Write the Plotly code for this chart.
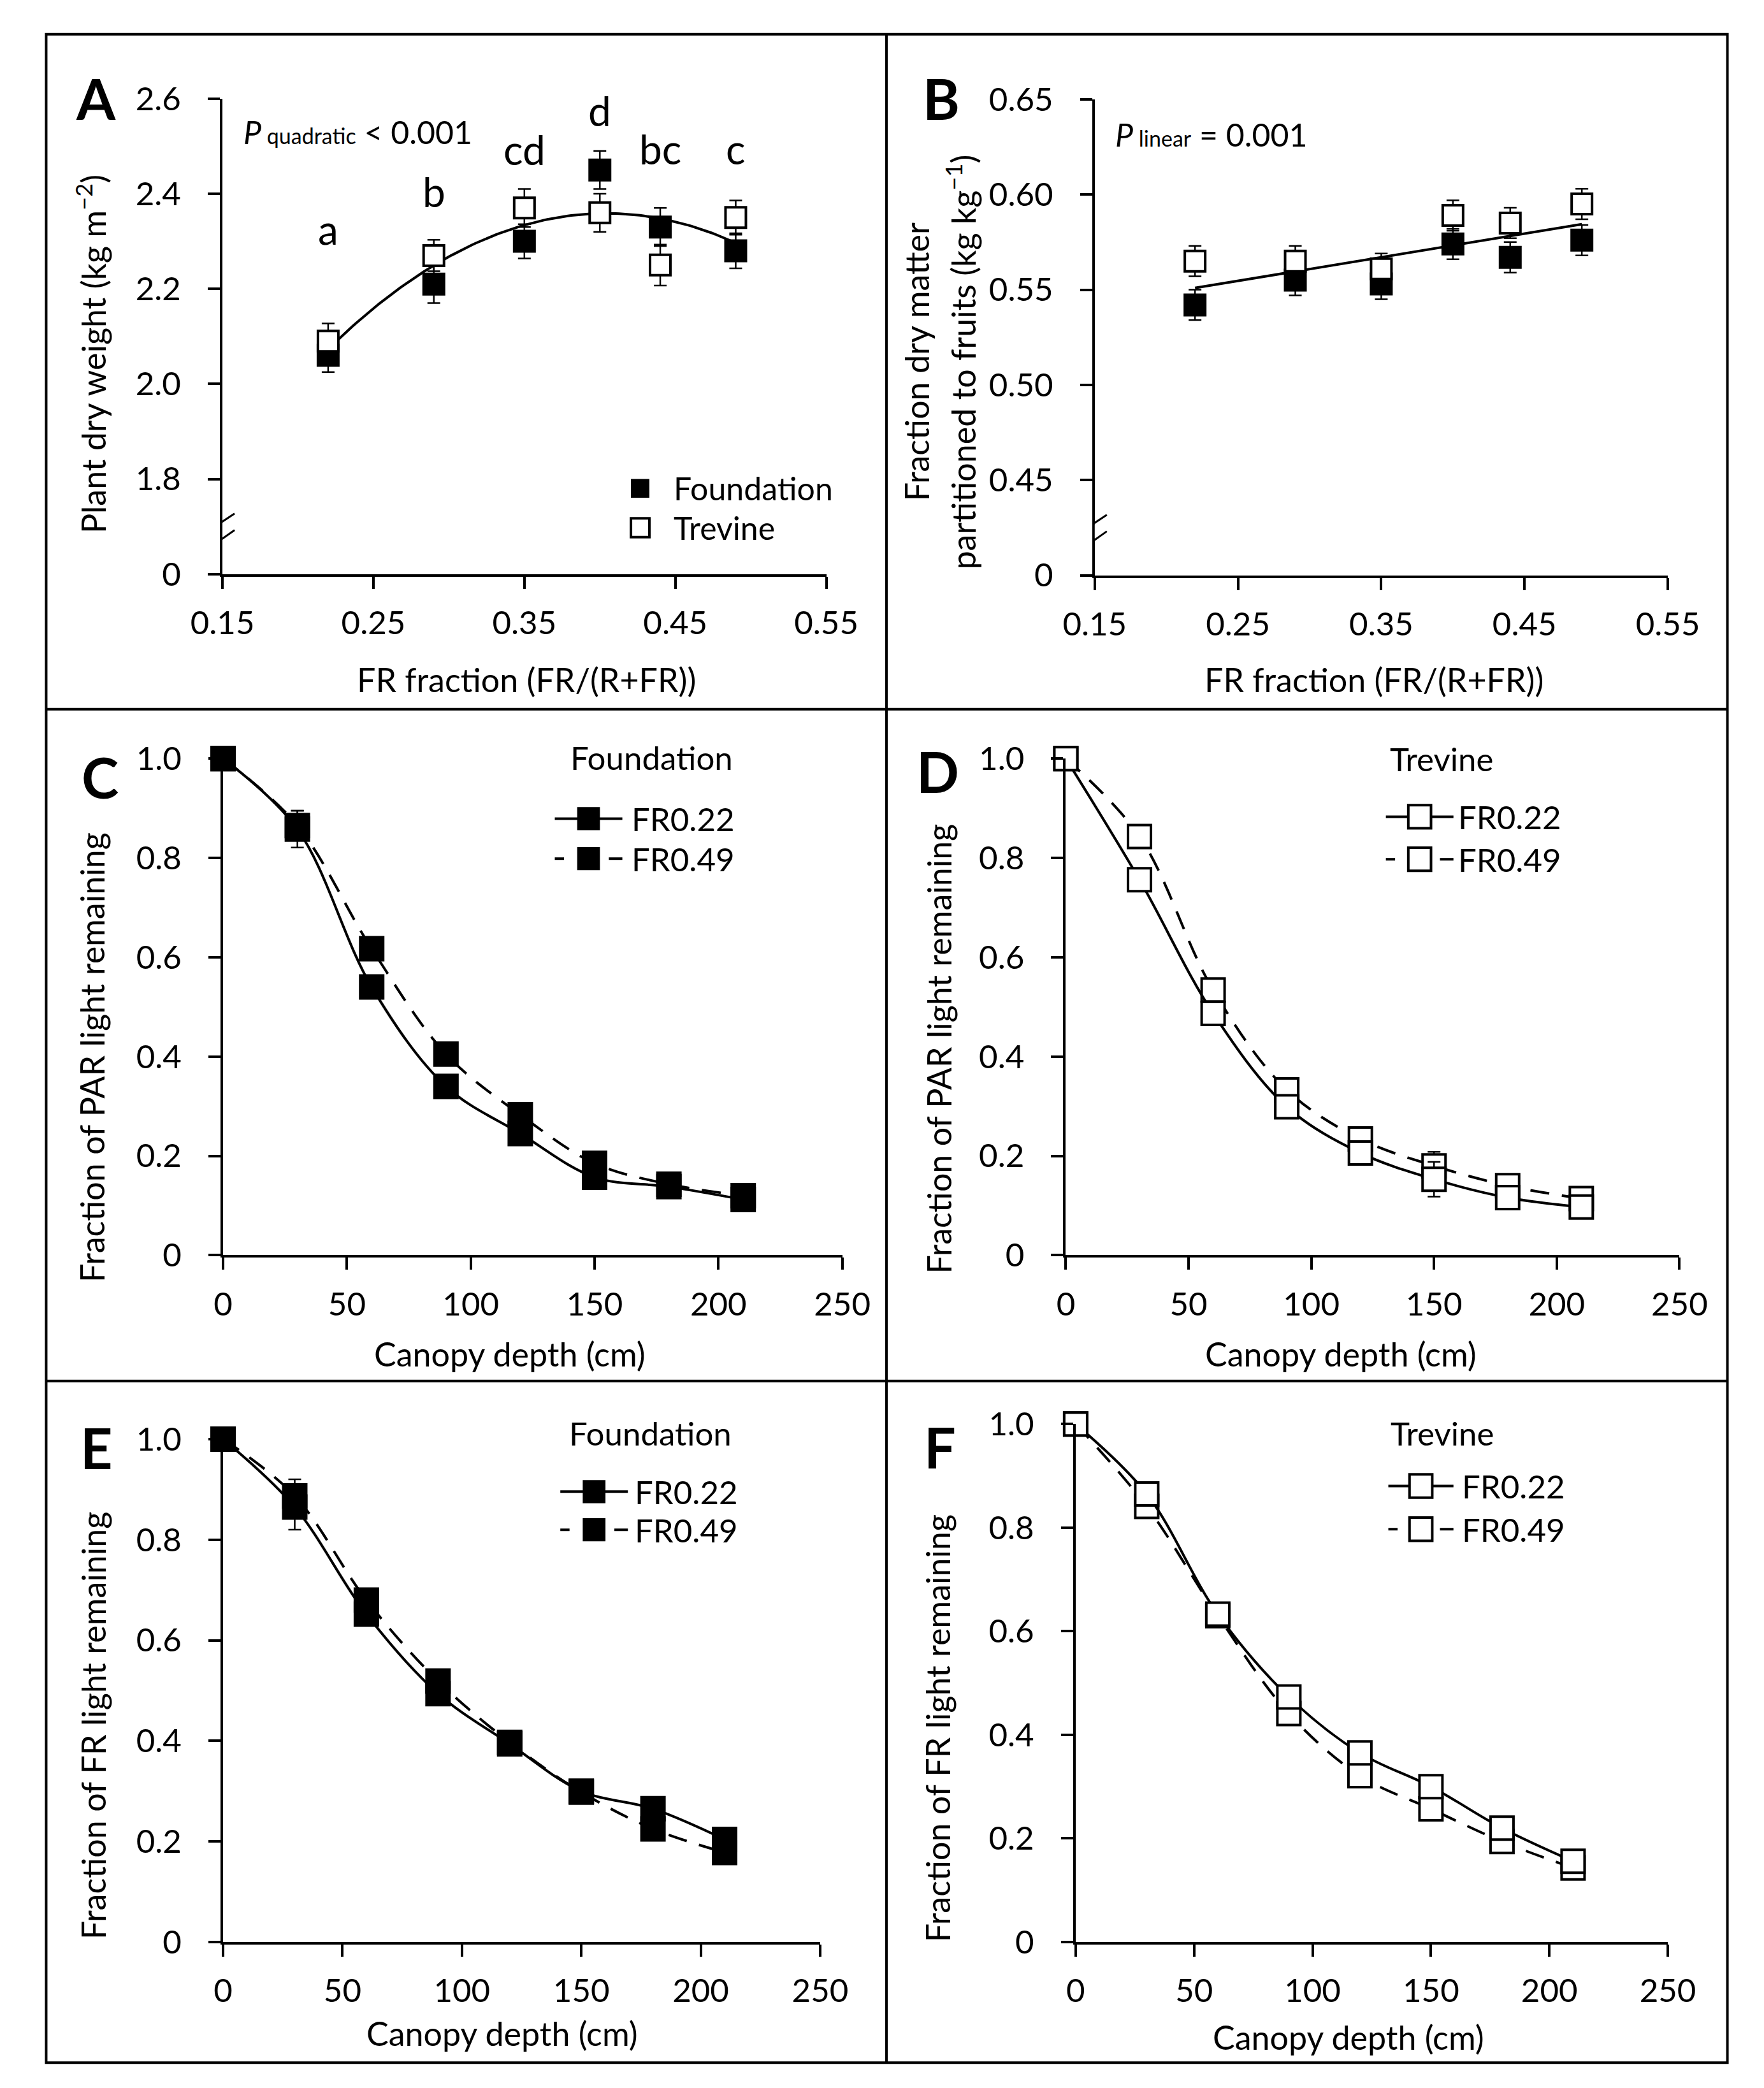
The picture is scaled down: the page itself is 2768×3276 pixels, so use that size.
import numpy as np
import plotly.graph_objects as go

# ---- data ----
fr = [0.22, 0.29, 0.35, 0.40, 0.44, 0.49]
sig_letters = ["a", "b", "cd", "d", "bc", "c"]

dw_foundation = [2.06, 2.21, 2.30, 2.45, 2.33, 2.28]
dw_trevine = [2.09, 2.27, 2.37, 2.36, 2.25, 2.35]
dw_foundation_err = [0.035, 0.040, 0.036, 0.040, 0.040, 0.037]
dw_trevine_err = [0.037, 0.033, 0.040, 0.040, 0.043, 0.036]

part_foundation = [0.542, 0.555, 0.553, 0.574, 0.567, 0.576]
part_trevine = [0.565, 0.565, 0.561, 0.589, 0.585, 0.595]
part_foundation_err = [0.008, 0.008, 0.008, 0.008, 0.008, 0.008]
part_trevine_err = [0.008, 0.008, 0.008, 0.008, 0.008, 0.008]

depth = [0, 30, 60, 90, 120, 150, 180, 210]
par_found_022 = [1.0, 0.858, 0.540, 0.340, 0.245, 0.157, 0.138, 0.112]
par_found_049 = [1.0, 0.865, 0.617, 0.405, 0.283, 0.185, 0.143, 0.120]
par_trev_022 = [1.0, 0.756, 0.487, 0.299, 0.206, 0.153, 0.116, 0.097]
par_trev_049 = [1.0, 0.843, 0.534, 0.333, 0.234, 0.180, 0.140, 0.114]
frl_found_022 = [1.0, 0.865, 0.652, 0.494, 0.394, 0.300, 0.265, 0.204]
frl_found_049 = [1.0, 0.887, 0.680, 0.519, 0.397, 0.298, 0.225, 0.178]
frl_trev_022 = [1.0, 0.865, 0.633, 0.473, 0.365, 0.300, 0.220, 0.156]
frl_trev_049 = [1.0, 0.841, 0.630, 0.441, 0.321, 0.257, 0.194, 0.143]

err_par_found_022 = [0, 0.037, 0.01, 0.01, 0.01, 0.01, 0.01, 0.01]
err_par_found_049 = [0, 0.030, 0.01, 0.01, 0.01, 0.01, 0.01, 0.01]
err_par_trev_022 = [0, 0.01, 0.01, 0.01, 0.01, 0.035, 0.01, 0.01]
err_par_trev_049 = [0, 0.01, 0.01, 0.01, 0.01, 0.028, 0.01, 0.01]
err_frl_found_022 = [0, 0.045, 0.01, 0.01, 0.01, 0.01, 0.01, 0.01]
err_frl_found_049 = [0, 0.033, 0.01, 0.01, 0.01, 0.01, 0.01, 0.01]
err_frl_trev_022 = [0, 0.01, 0.01, 0.01, 0.01, 0.01, 0.01, 0.01]
err_frl_trev_049 = [0, 0.01, 0.01, 0.01, 0.01, 0.01, 0.01, 0.01]

W, H = 2768, 3276
FONT = "Lato"


def px(x):
    return x / W


def py(y):
    return 1 - y / H


# regression lines computed from the cultivar means
mean_dw = (np.array(dw_foundation) + np.array(dw_trevine)) / 2
mean_part = (np.array(part_foundation) + np.array(part_trevine)) / 2
xs = np.linspace(fr[0], fr[-1], 120)
fit_dw = np.polyval(np.polyfit(fr, mean_dw, 2), xs)
fit_part = np.polyval(np.polyfit(fr, mean_part, 1), xs)

fig = go.Figure()

def err(arr):
    return dict(type="data", array=arr, visible=True, color="black", thickness=2.5, width=10)

black_sq = dict(symbol="square", size=36, color="black", line=dict(width=0))
white_sq = dict(symbol="square", size=32, color="white", line=dict(color="black", width=4))

# ---- A ----
fig.add_trace(go.Scatter(x=xs, y=fit_dw, mode="lines", line=dict(color="black", width=4),
                         xaxis="x", yaxis="y", showlegend=False))
fig.add_trace(go.Scatter(x=fr, y=dw_foundation, mode="markers", marker=black_sq,
                         error_y=err(dw_foundation_err), xaxis="x", yaxis="y", showlegend=False))
fig.add_trace(go.Scatter(x=fr, y=dw_trevine, mode="markers", marker=white_sq,
                         error_y=err(dw_trevine_err), xaxis="x", yaxis="y", showlegend=False))

# ---- B ----
fig.add_trace(go.Scatter(x=xs, y=fit_part, mode="lines", line=dict(color="black", width=4),
                         xaxis="x2", yaxis="y2", showlegend=False))
fig.add_trace(go.Scatter(x=fr, y=part_foundation, mode="markers", marker=black_sq,
                         error_y=err(part_foundation_err), xaxis="x2", yaxis="y2", showlegend=False))
fig.add_trace(go.Scatter(x=fr, y=part_trevine, mode="markers", marker=white_sq,
                         error_y=err(part_trevine_err), xaxis="x2", yaxis="y2", showlegend=False))

# ---- C-F ----
big_black = dict(symbol="square", size=40, color="black", line=dict(width=0))
big_white = dict(symbol="square", size=36, color="white", line=dict(color="black", width=4))
panels = [
    ("x3", "y3", par_found_049, par_found_022, err_par_found_049, err_par_found_022, big_black),
    ("x4", "y4", par_trev_049, par_trev_022, err_par_trev_049, err_par_trev_022, big_white),
    ("x5", "y5", frl_found_049, frl_found_022, err_frl_found_049, err_frl_found_022, big_black),
    ("x6", "y6", frl_trev_049, frl_trev_022, err_frl_trev_049, err_frl_trev_022, big_white),
]
for xa, ya, y49, y22, e49, e22, mk in panels:
    fig.add_trace(go.Scatter(x=depth, y=y49, mode="lines+markers", line_shape="spline",
                             line=dict(color="black", width=4, dash="30px,20px"), marker=mk,
                             error_y=err(e49), cliponaxis=False, xaxis=xa, yaxis=ya, showlegend=False))
    fig.add_trace(go.Scatter(x=depth, y=y22, mode="lines+markers", line_shape="spline",
                             line=dict(color="black", width=4), marker=mk,
                             error_y=err(e22), cliponaxis=False, xaxis=xa, yaxis=ya, showlegend=False))

# ---- axes ----
axis_common = dict(showline=True, linecolor="black", linewidth=4, ticks="outside", ticklen=19,
                   tickwidth=4, tickcolor="black", showgrid=False, zeroline=False,
                   tickfont=dict(family=FONT, size=51, color="black"), fixedrange=True)
fr_ticks = [0.15, 0.25, 0.35, 0.45, 0.55]
depth_ticks = [0, 50, 100, 150, 200, 250]
frac_ticks = [0, 0.2, 0.4, 0.6, 0.8, 1.0]
frac_text = ["0", "0.2", "0.4", "0.6", "0.8", "1.0"]

boxes = {
    "": (302, 1285, 117, 877),
    "2": (1722, 2655, 118, 879),
    "3": (303, 1311, 1172, 1966),
    "4": (1675, 2674, 1172, 1966),
    "5": (303, 1275, 2260, 3064),
    "6": (1691, 2655, 2236, 3064),
}
lay = {}
for k, (x0, x1, y0, y1) in boxes.items():
    xd = [px(x0), px(x1)]
    yd = [py(y1), py(y0)]
    if k in ("", "2"):
        xax = dict(axis_common, domain=xd, anchor="y" + k, range=[0.15, 0.55],
                   tickvals=fr_ticks, ticktext=["%.2f" % v for v in fr_ticks], ticklabelstandoff=10)
    else:
        xax = dict(axis_common, domain=xd, anchor="y" + k, range=[0, 250],
                   tickvals=depth_ticks, ticktext=[str(v) for v in depth_ticks], ticklabelstandoff=10)
    if k == "":
        yax = dict(axis_common, domain=yd, anchor="x", range=[1.6, 2.6],
                   tickvals=[1.6, 1.8, 2.0, 2.2, 2.4, 2.6],
                   ticktext=["0", "1.8", "2.0", "2.2", "2.4", "2.6"], ticklabelstandoff=32)
    elif k == "2":
        yax = dict(axis_common, domain=yd, anchor="x2", range=[0.40, 0.65],
                   tickvals=[0.40, 0.45, 0.50, 0.55, 0.60, 0.65],
                   ticktext=["0", "0.45", "0.50", "0.55", "0.60", "0.65"], ticklabelstandoff=32)
    else:
        yax = dict(axis_common, domain=yd, anchor="x" + k, range=[0, 1.0],
                   tickvals=frac_ticks, ticktext=frac_text, ticklabelstandoff=32)
    lay["xaxis" + k] = xax
    lay["yaxis" + k] = yax

# ---- text ----
ann = []


def text(x, y, s, size=52, angle=0, xanchor="center", bold=False):
    ann.append(dict(xref="paper", yref="paper", x=px(x), y=py(y), text=("<b>%s</b>" % s) if bold else s,
                    showarrow=False, textangle=angle, xanchor=xanchor, yanchor="middle",
                    font=dict(family=FONT, size=size, color="black")))


for s, (x, y) in zip("ABCDEF", [(96, 116), (1472, 116), (103, 1201), (1466, 1192), (97, 2273), (1470, 2272)]):
    text(x, y, s, size=88, bold=True)

text(88, 525, "Plant dry weight (kg m<sup>\u22122</sup>)", angle=-90)
text(1432, 538, "Fraction dry matter", angle=-90)
text(1505, 538, "partitioned to fruits (kg kg<sup>\u22121</sup>)", angle=-90)
text(90, 1650, "Fraction of PAR light remaining", angle=-90)
text(1468, 1636, "Fraction of PAR light remaining", angle=-90)
text(92, 2718, "Fraction of FR light remaining", angle=-90)
text(1466, 2723, "Fraction of FR light remaining", angle=-90)
text(797, 1045, "FR fraction (FR/(R+FR))")
text(2177, 1045, "FR fraction (FR/(R+FR))")
text(770, 2124, "Canopy depth (cm)")
text(2123, 2124, "Canopy depth (cm)")
text(757, 3210, "Canopy depth (cm)")
text(2135, 3216, "Canopy depth (cm)")

text(334, 170, "<i>P</i><span style='font-size:34px'> quadratic</span> < 0.001", size=50, xanchor="left")
text(1753, 174, "<i>P</i><span style='font-size:34px'> linear</span> = 0.001", size=50, xanchor="left")

letter_y = [2.325, 2.405, 2.493, 2.575, 2.495, 2.495]
for xv, yv, s in zip(fr, letter_y, sig_letters):
    ann.append(dict(xref="x", yref="y", x=xv, y=yv, text=s, showarrow=False, yanchor="middle",
                    font=dict(family=FONT, size=64, color="black")))

# ---- shapes: frame, breaks, legends ----
shapes = []
shapes.append(dict(type="rect", xref="paper", yref="paper", x0=px(15), x1=px(2752), y0=py(3257), y1=py(14),
                   line=dict(color="black", width=4), layer="above"))
shapes.append(dict(type="line", xref="paper", yref="paper", x0=px(1383), x1=px(1383), y0=py(3257), y1=py(14),
                   line=dict(color="black", width=4), layer="above"))
for yy in (1093, 2167):
    shapes.append(dict(type="line", xref="paper", yref="paper", x0=px(15), x1=px(2752), y0=py(yy), y1=py(yy),
                       line=dict(color="black", width=4), layer="above"))

for xa, ya, xmin, ymin in (("x", "y", 0.15, 1.6), ("x2", "y2", 0.15, 0.40)):
    base = dict(xref=xa, yref=ya, xsizemode="pixel", ysizemode="pixel", xanchor=xmin, yanchor=ymin, layer="above")
    shapes.append(dict(base, type="rect", x0=-6, x1=6, y0=58, y1=80, fillcolor="white", line=dict(width=0)))
    shapes.append(dict(base, type="line", x0=-29, x1=19, y0=63, y1=95, line=dict(color="black", width=3)))
    shapes.append(dict(base, type="line", x0=-29, x1=19, y0=35, y1=69, line=dict(color="black", width=3)))


def marker_shape(cx, cy, size, filled):
    h = size / 2
    shapes.append(dict(type="rect", xref="paper", yref="paper", x0=px(cx - h), x1=px(cx + h),
                       y0=py(cy + h), y1=py(cy - h), fillcolor="black" if filled else "white",
                       line=dict(color="black", width=0 if filled else 4), layer="above"))


def legend_row(x0, x1, y, tx, label, dashed, filled):
    lw = dict(color="black", width=4)
    if dashed:
        for a, b in ((x0, x0 + 15), (x1 - 22, x1)):
            shapes.append(dict(type="line", xref="paper", yref="paper", x0=px(a), x1=px(b),
                               y0=py(y), y1=py(y), line=lw, layer="above"))
    else:
        shapes.append(dict(type="line", xref="paper", yref="paper", x0=px(x0), x1=px(x1),
                           y0=py(y), y1=py(y), line=lw, layer="above"))
    marker_shape((x0 + x1) / 2, y, 37, filled)
    text(tx, y, label, size=51, xanchor="left")


legends = [
    ("Foundation", (1001, 1170), 843, 953, 1268, 1332, 966, True),
    ("Trevine", (2287, 1172), 2196, 2306, 1265, 1333, 2311, False),
    ("Foundation", (999, 2250), 852, 962, 2344, 2405, 971, True),
    ("Trevine", (2288, 2250), 2200, 2306, 2335, 2404, 2318, False),
]
for title, (tx, ty), x0, x1, y22, y49, lx, filled in legends:
    text(tx, ty, title, size=51)
    legend_row(x0, x1, y22, lx, "FR0.22", False, filled)
    legend_row(x0, x1, y49, lx, "FR0.49", True, filled)

marker_shape(982, 740, 30, True)
text(1034, 740, "Foundation", size=50, xanchor="left")
marker_shape(982, 803, 30, False)
text(1034, 803, "Trevine", size=50, xanchor="left")

fig.update_layout(width=W, height=H, margin=dict(l=0, r=0, t=0, b=0),
                  paper_bgcolor="white", plot_bgcolor="white",
                  font=dict(family=FONT, color="black"),
                  annotations=ann, shapes=shapes, showlegend=False, **lay)

fig.write_html("out.html")
